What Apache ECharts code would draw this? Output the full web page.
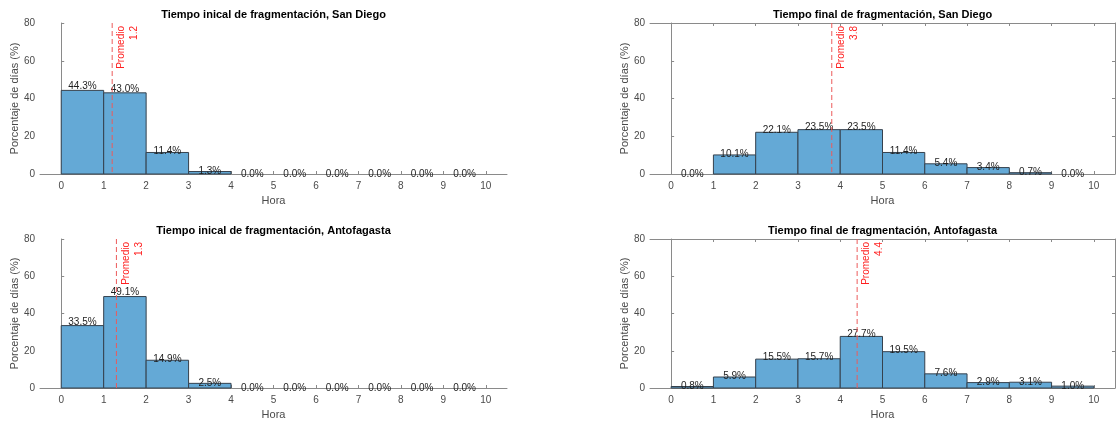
<!DOCTYPE html>
<html><head><meta charset="utf-8">
<script src="https://cdn.jsdelivr.net/npm/echarts@6/dist/echarts.min.js"></script>
<style>html,body{margin:0;padding:0;background:#fff}#c{width:1117px;height:421px}</style>
</head><body><div id="c"></div>
<script>
// ---- data ----
const binStarts = [0, 1, 2, 3, 4, 5, 6, 7, 8, 9];
const binWidth = 1;
const hourTicks = [0, 1, 2, 3, 4, 5, 6, 7, 8, 9, 10];
const sdInicial  = [44.3, 43.0, 11.4, 1.3, 0.0, 0.0, 0.0, 0.0, 0.0, 0.0];
const sdFinal    = [0.0, 10.1, 22.1, 23.5, 23.5, 11.4, 5.4, 3.4, 0.7, 0.0];
const antInicial = [33.5, 49.1, 14.9, 2.5, 0.0, 0.0, 0.0, 0.0, 0.0, 0.0];
const antFinal   = [0.8, 5.9, 15.5, 15.7, 27.7, 19.5, 7.6, 2.9, 3.1, 1.0];
const means = [1.2, 3.8, 1.3, 4.4];
const titles = [
  'Tiempo inical de fragmentación, San Diego',
  'Tiempo final de fragmentación, San Diego',
  'Tiempo inical de fragmentación, Antofagasta',
  'Tiempo final de fragmentación, Antofagasta'
];
const xName = 'Hora';
const yName = 'Porcentaje de días (%)';
const meanLabel = 'Promedio';

// ---- layout ----
const FONT = '"Liberation Sans", Arial, Helvetica, sans-serif';
const panels = [sdInicial, sdFinal, antInicial, antFinal];
const boxed = [false, true, false, true];
const grids = [
  {left: 40, top: 23, width: 467, height: 151},
  {left: 650, top: 23, width: 465, height: 151},
  {left: 40, top: 239, width: 467, height: 151},
  {left: 650, top: 239, width: 465, height: 151}
];
const AXC = '#8a8a8a';
const TXC = '#4a4a4a';

function renderBars(params, api) {
  const x0 = api.value(0), v = api.value(1);
  const p1 = api.coord([x0, v]);
  const p2 = api.coord([x0 + binWidth, 0]);
  const lp = api.coord([x0 + binWidth / 2, v * 1.05]);
  const children = [];
  if (v > 0) {
    children.push({type: 'rect', shape: {x: p1[0], y: p1[1], width: p2[0] - p1[0], height: p2[1] - p1[1]},
      style: {fill: '#64a9d6', stroke: '#35414d', lineWidth: 1}});
  }
  children.push({type: 'text', x: lp[0], y: lp[1], z2: 10,
    style: {text: v.toFixed(1) + '%', fill: '#1e1e1e', font: '10px ' + FONT, align: 'center', verticalAlign: 'middle'}});
  return {type: 'group', children};
}

function renderMean(params, api) {
  const m = api.value(0);
  const cs = params.coordSys;
  const x = api.coord([m, 0])[0];
  return {type: 'group', children: [
    {type: 'line', shape: {x1: x, y1: cs.y, x2: x, y2: cs.y + cs.height},
      style: {stroke: '#ec5b5b', lineWidth: 1, lineDash: [5, 3]}},
    {type: 'text', x: x + 3, y: cs.y + 3, rotation: Math.PI / 2,
      style: {text: meanLabel + '\n' + m.toFixed(1), fill: '#ff2020', font: '10px ' + FONT,
        align: 'right', verticalAlign: 'top', lineHeight: 13}}
  ]};
}

const xAxes = [], yAxes = [], series = [], titleOpts = [];
panels.forEach((vals, p) => {
  const g = grids[p];
  xAxes.push({type: 'value', gridIndex: p, min: -0.5, max: 10.5, position: 'bottom',
    name: xName, nameLocation: 'middle', nameGap: 21,
    nameTextStyle: {color: TXC, fontSize: 11, fontFamily: FONT},
    axisLine: {show: true, lineStyle: {color: AXC, width: 1}},
    axisTick: {show: true, inside: true, length: 3, lineStyle: {color: AXC}, customValues: hourTicks},
    axisLabel: {color: TXC, fontSize: 10, fontFamily: FONT, margin: 7, customValues: hourTicks},
    splitLine: {show: false}});
  yAxes.push({type: 'value', gridIndex: p, min: 0, max: 80, interval: 20, position: 'left',
    name: yName, nameLocation: 'middle', nameGap: 20,
    nameTextStyle: {color: TXC, fontSize: 11, fontFamily: FONT},
    axisLine: {show: true, lineStyle: {color: AXC, width: 1}},
    axisTick: {show: true, inside: true, length: 3, lineStyle: {color: AXC}},
    axisLabel: {color: TXC, fontSize: 10, fontFamily: FONT, margin: 5},
    splitLine: {show: false}});
  titleOpts.push({text: titles[p], left: g.left + g.width / 2, top: g.top - 14, textAlign: 'center', padding: 0,
    textStyle: {fontSize: 11, fontWeight: 'bold', color: '#000', fontFamily: FONT}});
  series.push({type: 'custom', xAxisIndex: p, yAxisIndex: p, renderItem: renderBars,
    data: binStarts.map((b, i) => [b, vals[i]]), z: 2, silent: true});
  series.push({type: 'custom', xAxisIndex: p, yAxisIndex: p, renderItem: renderMean,
    data: [[means[p]]], z: 3, silent: true, clip: false});
});
// box for right panels
panels.forEach((vals, p) => {
  if (!boxed[p]) return;
  xAxes.push({type: 'value', gridIndex: p, min: -0.5, max: 10.5, position: 'top',
    axisLine: {show: true, onZero: false, lineStyle: {color: AXC, width: 1}},
    axisTick: {show: true, inside: true, length: 3, lineStyle: {color: AXC}, customValues: hourTicks},
    axisLabel: {show: false}, splitLine: {show: false}});
  yAxes.push({type: 'value', gridIndex: p, min: 0, max: 80, interval: 20, position: 'right',
    axisLine: {show: true, onZero: false, lineStyle: {color: AXC, width: 1}},
    axisTick: {show: true, inside: true, length: 3, lineStyle: {color: AXC}},
    axisLabel: {show: false}, splitLine: {show: false}});
});

const chart = echarts.init(document.getElementById('c'), null, {renderer: 'canvas'});
chart.setOption({
  animation: false,
  backgroundColor: '#fff',
  title: titleOpts,
  grid: grids.map(g => Object.assign({containLabel: false}, g)),
  xAxis: xAxes,
  yAxis: yAxes,
  series: series
});
</script></body></html>
